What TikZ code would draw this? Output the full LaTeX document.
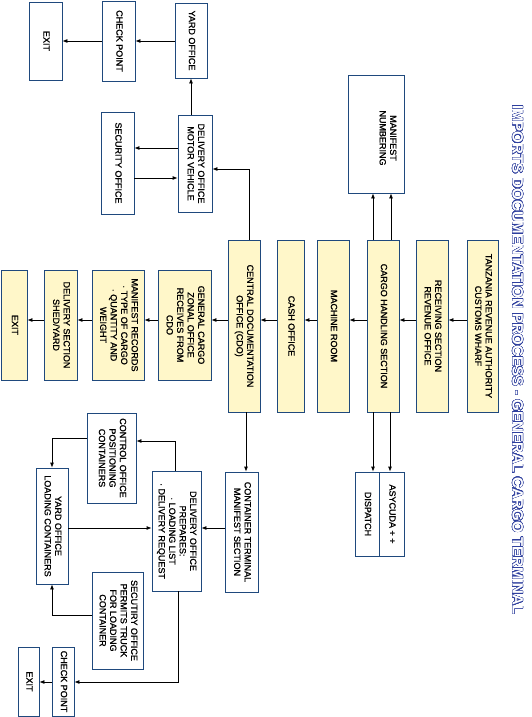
\documentclass[tikz,border=0pt]{standalone}
\usepackage{fontspec}
\setmainfont{Liberation Sans}
\newfontfamily\boxfont[FakeBold=1.2]{Liberation Sans}
\usepackage{contour}
\usetikzlibrary{arrows.meta}
\definecolor{bord}{HTML}{1F497D}
\definecolor{yel}{HTML}{FFF7C9}
\definecolor{ttl}{HTML}{2E3F9E}
\newcommand{\rt}[1]{\rotatebox{-90}{\begin{tabular}{@{}c@{}}#1\end{tabular}}}
\contourlength{0.4pt}
\contournumber{24}
\begin{document}
\begin{tikzpicture}[x=1pt,y=-1pt,
  wbox/.style={draw=bord,line width=0.8pt,fill=white,inner sep=0pt,font=\boxfont\fontsize{9}{10.5}\selectfont},
  ybox/.style={wbox,fill=yel},
  txt/.style={inner sep=0pt,font=\boxfont\fontsize{9}{10.5}\selectfont},
  arr/.style={-{Latex[length=5pt,width=4pt]},line width=0.8pt,black}]
\useasboundingbox (0,0) rectangle (532,717);
\fill[white] (0,0) rectangle (532,717);

% title
\node[rotate=-90,inner sep=0pt] (title) at (517.5,360)
  {\fontsize{15}{18}\selectfont\bfseries\color{white}\contour{ttl}{IMPORTS DOCUMENTATION PROCESS - GENERAL CARGO TERMINAL}};

% top row
\node[wbox,minimum width=33pt,minimum height=78pt] (exitA) at (45.5,41) {\rt{EXIT}};
\node[wbox,minimum width=33pt,minimum height=80pt] (chkA) at (118.5,41) {\rt{CHECK POINT}};
\node[wbox,minimum width=32pt,minimum height=75pt] (yardA) at (191,40.5) {\rt{YARD OFFICE}};
\node[wbox,minimum width=34pt,minimum height=97pt] (delMV) at (195,163.5) {\rt{DELIVERY OFFICE\\MOTOR VEHICLE}};
\node[wbox,minimum width=33pt,minimum height=102pt] (secA) at (117.5,163) {\rt{SECURITY OFFICE}};
\node[wbox,minimum width=56pt,minimum height=118pt] (manN) at (376,134) {};
\node[txt] (manNt) at (387,138) {\rt{MANIFEST\\NUMBERING}};

% yellow row
\node[ybox,minimum width=32pt,minimum height=172pt] (cdo) at (244,326) {\rt{CENTRAL DOCUMENTATION\\OFFICE (CDO)}};
\node[ybox,minimum width=27pt,minimum height=172pt] (cash) at (290.5,326) {\rt{CASH OFFICE}};
\node[ybox,minimum width=32pt,minimum height=172pt] (mach) at (333,326) {\rt{MACHINE ROOM}};
\node[ybox,minimum width=32pt,minimum height=172pt] (cargo) at (383,326) {\rt{CARGO HANDLING SECTION}};
\node[ybox,minimum width=32pt,minimum height=172pt] (recv) at (432,326) {\rt{RECEIVING SECTION\\REVENUE OFFICE}};
\node[ybox,minimum width=31pt,minimum height=172pt] (tra) at (482.5,326) {\rt{TANZANIA REVENUE AUTHORITY\\CUSTOMS WHARF}};

% middle row
\node[ybox,minimum width=53pt,minimum height=110pt] (gcz) at (184.5,325) {\rt{GENERAL CARGO\\ZONAL OFFICE\\RECEIVES FROM\\CDO}};
\node[ybox,minimum width=52pt,minimum height=110pt] (manR) at (118,325) {\rt{MANIFEST RECORDS\\· TYPE OF CARGO\\· QUANTITY AND\\WEIGHT}};
\node[ybox,minimum width=33pt,minimum height=110pt] (delS) at (60.5,325) {\rt{DELIVERY SECTION\\SHED/YARD}};
\node[ybox,minimum width=26pt,minimum height=110pt] (exitB) at (14,325) {\rt{EXIT}};

% bottom part
\node[wbox,minimum width=33pt,minimum height=120pt] (ctms) at (241.5,532) {\rt{CONTAINER TERMINAL\\MANIFEST SECTION}};
\node[wbox,minimum width=24pt,minimum height=84pt] (disp) at (367,514) {\rt{DISPATCH}};
\node[wbox,minimum width=25pt,minimum height=84pt] (asy) at (391.5,514) {\rt{ASYCUDA + +}};
\node[wbox,minimum width=49pt,minimum height=120pt] (delP) at (176.5,531) {\rt{DELIVERY OFFICE\\PREPARES:\\· LOADING LIST\\· DELIVERY REQUEST}};
\node[wbox,minimum width=49pt,minimum height=90pt] (ctrl) at (111.5,458) {\rt{CONTROL OFFICE\\POSITIONING\\CONTAINERS}};
\node[wbox,minimum width=32pt,minimum height=116pt] (yardB) at (52,526) {\rt{YARD OFFICE\\LOADING CONTAINERS}};
\node[wbox,minimum width=51pt,minimum height=97pt] (secB) at (117.5,620.5) {\rt{SECUTIRY OFFICE\\PERMITS TRUCK\\FOR LOADING\\CONTAINER}};
\node[wbox,minimum width=22pt,minimum height=69pt] (chkB) at (63,681.5) {\rt{CHECK POINT}};
\node[wbox,minimum width=21pt,minimum height=69pt] (exitC) at (28.5,681.5) {\rt{EXIT}};

% connectors top
\draw[arr] (yardA.west |- 0,41) -- (chkA.east |- 0,41);
\draw[arr] (chkA.west |- 0,41) -- (exitA.east |- 0,41);
\draw[arr] (delMV.north -| yardA) -- (yardA.south);
\draw[arr] (delMV.west |- 0,148) -- (secA.east |- 0,148);
\draw[arr] (secA.east |- 0,178) -- (delMV.west |- 0,178);
\draw[arr] (cdo.north -| 249,0) |- (delMV.east |- 0,169);

% yellow chain
\draw[arr] (tra.west |- 0,320) -- (recv.east |- 0,320);
\draw[arr] (recv.west |- 0,320) -- (cargo.east |- 0,320);
\draw[arr] (cargo.west |- 0,320) -- (mach.east |- 0,320);
\draw[arr] (mach.west |- 0,320) -- (cash.east |- 0,320);
\draw[arr] (cash.west |- 0,320) -- (cdo.east |- 0,320);
\draw[arr] (cdo.west |- 0,320) -- (gcz.east |- 0,320);
\draw[arr] (gcz.west |- 0,320) -- (manR.east |- 0,320);
\draw[arr] (manR.west |- 0,320) -- (delS.east |- 0,320);
\draw[arr] (delS.west |- 0,320) -- (exitB.east |- 0,320);

% cargo handling up/down
\draw[arr] (cargo.north -| 373,0) -- (manN.south -| 373,0);
\draw[arr] (cargo.north -| 391,0) -- (manN.south -| 391,0);
\draw[arr] (cargo.south -| 373,0) -- (disp.north -| 373,0);
\draw[arr] (cargo.south -| 390,0) -- (asy.north -| 390,0);

% container part
\draw[arr] (cdo.south -| 246,0) -- (ctms.north -| 246,0);
\draw[arr] (ctms.west |- 0,528) -- (delP.east |- 0,528);
\draw[arr] (delP.north -| 175,0) |- (ctrl.east |- 0,441);
\draw[arr] (ctrl.west |- 0,438) -| (yardB.north);
\draw[arr] (yardB.east |- 0,528) -- (delP.west |- 0,528);
\draw[arr] (secB.west |- 0,615) -| (yardB.south);
\draw[arr] (delP.south -| 178,0) |- (chkB.east |- 0,682);
\draw[arr] (chkB.west |- 0,682) -- (exitC.east |- 0,682);
\end{tikzpicture}
\end{document}
